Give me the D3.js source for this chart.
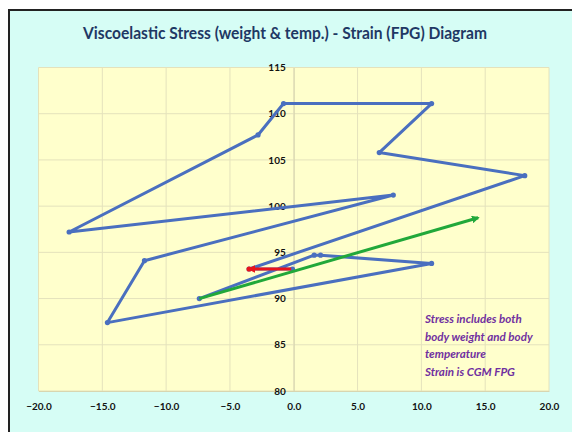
<!DOCTYPE html>
<html>
<head>
<meta charset="utf-8">
<script src="https://cdn.jsdelivr.net/npm/d3@7"></script>
<style>
  body { margin: 0; background: #fff; }
  svg { display: block; }
  text { font-family: Lato, "Open Sans", sans-serif; }
</style>
</head>
<body>
<svg id="chart" width="572" height="432"></svg>
<script>
// strain (FPG change) vs stress (weight & temp) path
const strain = [-0.1, -3.5, 18.1, 6.7, 10.8, -0.8, -2.8, -17.6, 7.8, -11.7, -14.6, 10.8, 2.1, 1.6, -7.4];
const stress = [93.2, 93.2, 103.3, 105.8, 111.1, 111.1, 107.7, 97.2, 101.2, 94.1, 87.4, 93.8, 94.7, 94.7, 90.0];

// first step (red) and overall trend (green)
const redX = [-0.2, -3.5], redY = [93.2, 93.2];
const greenX = [-7.4, 14.45], greenY = [90.0, 98.75];

const xTicks = [-20, -15, -10, -5, 0, 5, 10, 15, 20];
const yTicks = [80, 85, 90, 95, 100, 105, 110, 115];

const titleText = "Viscoelastic Stress (weight & temp.) - Strain (FPG) Diagram";
const noteLines = ["Stress includes both", "body weight and body", "temperature", "Strain is CGM FPG"];

const svg = d3.select("#chart");
const plot = { left: 38.5, right: 549, top: 67.5, bottom: 391 };

// chart frame
svg.append("rect")
  .attr("x", 9).attr("y", 10).attr("width", 575).attr("height", 430)
  .attr("fill", "#d6fdf5").attr("stroke", "#222").attr("stroke-width", 2);

svg.append("text")
  .attr("x", 285).attr("y", 39)
  .attr("text-anchor", "middle")
  .attr("textLength", 404).attr("lengthAdjust", "spacingAndGlyphs")
  .style("font-size", "17.5px").style("font-weight", "bold")
  .attr("fill", "#1f3864")
  .text(titleText);

const x = d3.scaleLinear().domain([-20, 20]).range([plot.left, plot.right]);
const y = d3.scaleLinear().domain([80, 115]).range([plot.bottom, plot.top]);

svg.append("rect")
  .attr("x", plot.left).attr("y", plot.top)
  .attr("width", plot.right - plot.left).attr("height", plot.bottom - plot.top)
  .attr("fill", "#ffffcc");

// grid
const grid = svg.append("g").attr("stroke", "#e4e2bc").attr("stroke-width", 1);
grid.selectAll(".gx").data(xTicks).join("line")
  .attr("x1", d => x(d)).attr("x2", d => x(d))
  .attr("y1", plot.top).attr("y2", plot.bottom);
grid.selectAll(".gy").data(yTicks).join("line")
  .attr("x1", plot.left).attr("x2", plot.right)
  .attr("y1", d => y(d)).attr("y2", d => y(d));

// axes
const xAxis = svg.append("g")
  .attr("transform", `translate(0,${plot.bottom})`)
  .call(d3.axisBottom(x).tickValues(xTicks).tickFormat(d3.format(".1f")).tickSize(0).tickPadding(12));
xAxis.select(".domain").attr("stroke", "#d8d6b0");

const yAxis = svg.append("g")
  .attr("transform", `translate(${x(0)},0)`)
  .call(d3.axisLeft(y).tickValues(yTicks).tickSize(0).tickPadding(8));
yAxis.select(".domain").attr("stroke", "#d8d6b0");

svg.selectAll(".tick text")
  .style("font-size", "10px").style("font-weight", "bold")
  .style("font-family", "Lato, sans-serif")
  .attr("fill", "#111");

// arrow markers
const defs = svg.append("defs");
[["arrRed", "#e8141b"], ["arrGreen", "#21a83a"]].forEach(([id, c]) => {
  defs.append("marker")
    .attr("id", id).attr("viewBox", "0 0 10 10")
    .attr("refX", 8).attr("refY", 5)
    .attr("markerWidth", 2.6).attr("markerHeight", 2.6)
    .attr("orient", "auto")
    .append("path").attr("d", "M0,0 L10,5 L0,10 z").attr("fill", c);
});

const line = d3.line().x(d => x(d[0])).y(d => y(d[1]));
const pts = strain.map((v, i) => [v, stress[i]]);

svg.append("path")
  .datum(pts)
  .attr("d", line)
  .attr("fill", "none").attr("stroke", "#4a6fbf")
  .attr("stroke-width", 3).attr("stroke-linejoin", "round");

svg.selectAll(".pt").data(pts).join("circle")
  .attr("cx", d => x(d[0])).attr("cy", d => y(d[1])).attr("r", 2.6)
  .attr("fill", "#4a6fbf");

svg.append("path")
  .datum(greenX.map((v, i) => [v, greenY[i]]))
  .attr("d", line)
  .attr("fill", "none").attr("stroke", "#21a83a").attr("stroke-width", 3)
  .attr("marker-end", "url(#arrGreen)");

svg.append("path")
  .datum(redX.map((v, i) => [v, redY[i]]))
  .attr("d", line)
  .attr("fill", "none").attr("stroke", "#e8141b").attr("stroke-width", 3)
  .attr("marker-end", "url(#arrRed)");
svg.append("circle")
  .attr("cx", x(redX[1])).attr("cy", y(redY[1])).attr("r", 2.6).attr("fill", "#e8141b");

// note
svg.append("text")
  .attr("x", 425).attr("y", 323)
  .style("font-size", "11.6px").style("font-weight", "bold").style("font-style", "italic")
  .attr("fill", "#7030a0")
  .selectAll("tspan").data(noteLines).join("tspan")
  .attr("x", 425).attr("dy", (d, i) => i ? 17.5 : 0)
  .text(d => d);
</script>
</body>
</html>
